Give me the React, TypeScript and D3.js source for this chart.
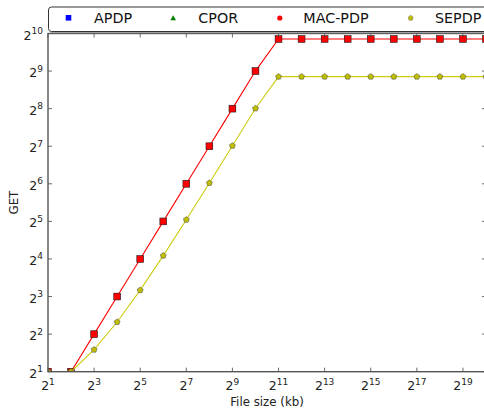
import React from "react";
import * as d3 from "d3";

const fileSizes = [2, 4, 8, 16, 32, 64, 128, 256, 512, 1024, 2048, 4096, 8192, 16384, 32768, 65536, 131072, 262144, 524288, 1048576];
const apdp = [2, 2, 4, 8, 16, 32, 64, 128, 256, 512, 925, 925, 925, 925, 925, 925, 925, 925, 925, 925];
const cpor = [2, 2, 4, 8, 16, 32, 64, 128, 256, 512, 925, 925, 925, 925, 925, 925, 925, 925, 925, 925];
const macpdp = [2, 2, 4, 8, 16, 32, 64, 128, 256, 512, 925, 925, 925, 925, 925, 925, 925, 925, 925, 925];
const sepdp = [2, 2, 3, 5, 9, 17, 33, 65, 129, 257, 462, 462, 462, 462, 462, 462, 462, 462, 462, 462];
const xTickExps = [1, 3, 5, 7, 9, 11, 13, 15, 17, 19];
const yTickExps = [1, 2, 3, 4, 5, 6, 7, 8, 9, 10];
const seriesNames = ["APDP", "CPOR", "MAC-PDP", "SEPDP"];

const W = 484, H = 414;
const L = 48, R = 486, T = 33.5, B = 371.7;
const FONT = "DejaVu Sans, sans-serif";

function pentagon(cx: number, cy: number, r: number) {
  const pts = d3.range(5).map(i => {
    const a = -Math.PI / 2 + (i * 2 * Math.PI) / 5;
    return [cx + r * Math.cos(a), cy + r * Math.sin(a)];
  });
  return "M" + pts.map(p => p.join(",")).join("L") + "Z";
}
function triangle(cx: number, cy: number, r: number) {
  return `M${cx},${cy - r}L${cx + r * 0.95},${cy + r * 0.7}L${cx - r * 0.95},${cy + r * 0.7}Z`;
}

export default function App() {
  const x = d3.scaleLog().base(2).domain([2, Math.pow(2, 20)]).range([L, R]);
  const y = d3.scaleLog().base(2).domain([2, 1024]).range([B, T]);
  const line = (vals: number[]) =>
    d3.line<number>().x((_, i) => x(fileSizes[i])).y(v => y(v))(vals) || "";

  return (
    <svg width={W} height={H} style={{ position: "absolute", left: 0, top: 0, display: "block", background: "#fff" }} fontFamily={FONT}>
      <defs>
        <clipPath id="plot">
          <rect x={L} y={T} width={R - L} height={B - T} />
        </clipPath>
      </defs>
      <rect x={0} y={0} width={W} height={H} fill="#fff" />

      {/* data (APDP and CPOR are hidden underneath MAC-PDP) */}
      <g clipPath="url(#plot)">
        {apdp.map((v, i) => (
          <rect key={"a" + i} x={x(fileSizes[i]) - 3} y={y(v) - 3} width={6} height={6} fill="#0000ff" />
        ))}
        {cpor.map((v, i) => (
          <path key={"c" + i} d={triangle(x(fileSizes[i]), y(v), 2.8)} fill="#008000" />
        ))}
        <path d={line(macpdp)} fill="none" stroke="#ff0000" strokeWidth={1.1} />
        {macpdp.map((v, i) => (
          <rect key={"m" + i} x={x(fileSizes[i]) - 3.4} y={y(v) - 3.4} width={6.8} height={6.8} fill="#ff0000" stroke="#222" strokeWidth={0.6} />
        ))}
        <path d={line(sepdp)} fill="none" stroke="#cccc10" strokeWidth={1.1} />
        {sepdp.map((v, i) => (
          <path key={"s" + i} d={pentagon(x(fileSizes[i]), y(v), 3.1)} fill="#bfbf00" stroke="#444" strokeWidth={0.5} />
        ))}
      </g>

      {/* ticks */}
      <g stroke="#444" strokeWidth={0.8}>
        {xTickExps.map(e => {
          const xx = x(Math.pow(2, e));
          return (
            <g key={"xt" + e}>
              <line x1={xx} x2={xx} y1={B} y2={B - 4} />
              <line x1={xx} x2={xx} y1={T} y2={T + 4} />
            </g>
          );
        })}
        {yTickExps.map(e => {
          const yy = y(Math.pow(2, e));
          return (
            <g key={"yt" + e}>
              <line x1={L} x2={L + 4} y1={yy} y2={yy} />
              <line x1={R} x2={R - 4} y1={yy} y2={yy} />
            </g>
          );
        })}
      </g>

      {/* spines */}
      <rect x={L} y={T} width={R - L} height={B - T} fill="none" stroke="#555" strokeWidth={1.4} />

      {/* tick labels */}
      <g fill="#222" fontSize={12.5}>
        {xTickExps.map(e => (
          <text key={"xl" + e} x={x(Math.pow(2, e))} y={390} textAnchor="middle">
            2<tspan fontSize={9} dy={-5.5}>{e}</tspan>
          </text>
        ))}
        {yTickExps.map(e => (
          <text key={"yl" + e} x={43} y={y(Math.pow(2, e)) + 6} textAnchor="end">
            2<tspan fontSize={9} dy={-5.5}>{e}</tspan>
          </text>
        ))}
      </g>

      {/* axis labels */}
      <text x={(L + R) / 2} y={405.5} textAnchor="middle" fontSize={11.8} fill="#222">File size (kb)</text>
      <text transform={`translate(17.5,${(T + B) / 2}) rotate(-90)`} textAnchor="middle" fontSize={11.8} fill="#222">GET</text>

      {/* legend */}
      <rect x={50} y={9} width={450} height={24.5} rx={3} fill="#777" opacity={0.6} />
      <rect x={48.5} y={7} width={450} height={24.5} rx={3} fill="#fff" stroke="#333" strokeWidth={1} />
      <rect x={65.7} y={15} width={5.6} height={5.6} fill="#0000ff" />
      <path d={triangle(173.2, 18.2, 3)} fill="#008000" />
      <circle cx={279.8} cy={18} r={2.6} fill="#ff0000" />
      <path d={pentagon(410.7, 18, 2.7)} fill="#bfbf00" stroke="#555" strokeWidth={0.4} />
      <g fontSize={14.3} fill="#111">
        <text x={94} y={23.3}>{seriesNames[0]}</text>
        <text x={198.3} y={23.3}>{seriesNames[1]}</text>
        <text x={303.3} y={23.3}>{seriesNames[2]}</text>
        <text x={435} y={23.3}>{seriesNames[3]}</text>
      </g>
    </svg>
  );
}
